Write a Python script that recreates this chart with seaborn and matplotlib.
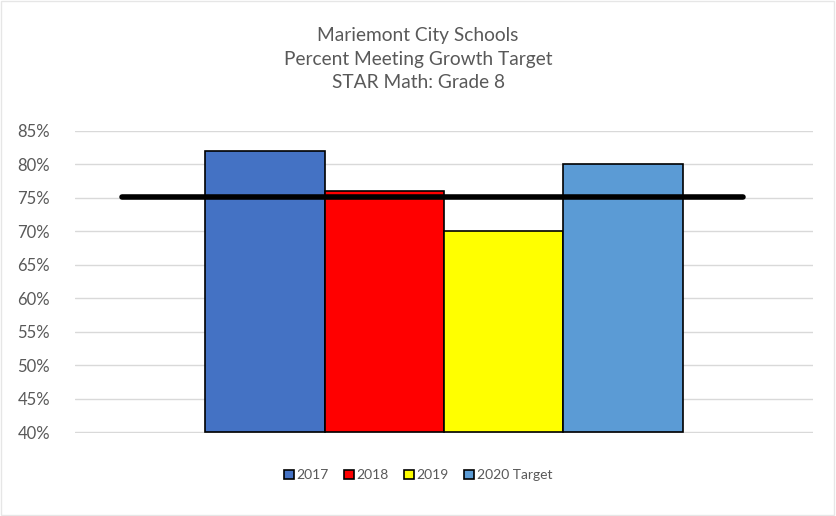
import pandas as pd
import seaborn as sns
import matplotlib.pyplot as plt
from matplotlib.patches import Rectangle

# データ
series = ["2017", "2018", "2019", "2020 Target"]
values = [82, 76, 70, 80]
colors = ["#4472C4", "#FF0000", "#FFFF00", "#5B9BD5"]
target = 75.2
y_ticks = [40, 45, 50, 55, 60, 65, 70, 75, 80, 85]
title_lines = ["Mariemont City Schools", "Percent Meeting Growth Target", "STAR Math: Grade 8"]

text_color = "#595959"
grid_color = "#D9D9D9"

sns.set_style("white")
plt.rcParams["font.family"] = ["Lato", "DejaVu Sans"]

df = pd.DataFrame({"cat": [""] * len(series), "series": series, "value": values})

fig = plt.figure(figsize=(8.36, 5.16), dpi=100)
ax = fig.add_axes([0.0897, 0.1609, 0.8828, 0.5853])

sns.barplot(data=df, x="cat", y="value", hue="series", palette=colors, saturation=1,
            width=0.647, gap=0, edgecolor="black", linewidth=1.2, ax=ax,
            legend=True, zorder=3)

# 棒の下端を40%に揃える
for p in ax.patches:
    if p.get_height() > 0:
        top = p.get_y() + p.get_height()
        p.set_y(y_ticks[0])
        p.set_height(top - y_ticks[0])

ax.set_xlim(-0.5, 0.5)
ax.set_ylim(y_ticks[0] - 0.1, y_ticks[-1])
ax.set_yticks(y_ticks)
ax.set_yticklabels([f"{t}%" for t in y_ticks], fontsize=12, color=text_color)
ax.tick_params(axis="y", length=0, pad=18)
ax.tick_params(axis="x", length=0)
ax.set_xticklabels([])
ax.set_xlabel("")
ax.set_ylabel("")
ax.grid(True, axis="y", color=grid_color, linewidth=1, zorder=0)
ax.set_axisbelow(True)
for s in ax.spines.values():
    s.set_visible(False)

# 目標ライン
ax.axhline(target, xmin=0.064, xmax=0.905, color="black", linewidth=4, zorder=4)

# 凡例
handles, labels = ax.get_legend_handles_labels()
ax.legend(handles, labels, loc="center", bbox_to_anchor=(0.5, 0.079),
          bbox_transform=fig.transFigure, ncol=4, frameon=False,
          fontsize=10, handlelength=0.7, handleheight=0.7, handletextpad=0.2,
          columnspacing=1.1, labelcolor=text_color)

# タイトル
for i, line in enumerate(title_lines):
    fig.text(0.5, 1 - (36 + 23 * i) / 516, line, ha="center", va="center",
             fontsize=13.8, color=text_color)

# 外枠
fig.patches.append(Rectangle((0.001, 0.001), 0.997, 0.997, transform=fig.transFigure,
                             fill=False, edgecolor="#E6E6E6", linewidth=1))

fig.savefig("out.png", dpi=100)
